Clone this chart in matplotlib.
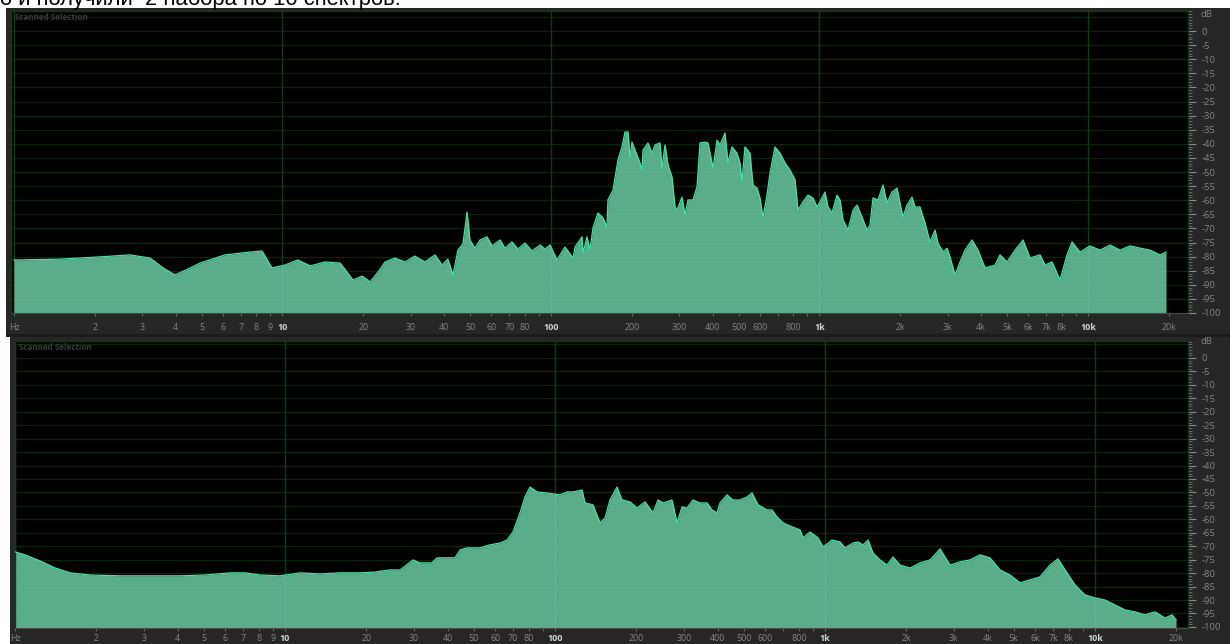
import matplotlib
matplotlib.use("Agg")
from matplotlib import pyplot as plt
from matplotlib.patches import Rectangle
from matplotlib.ticker import FixedLocator, MultipleLocator
from matplotlib.transforms import blended_transform_factory

W, H = 1230, 644

caption = "о и получили  2 набора по 10 спектров."
panel_title = "Scanned Selection"

# first set of spectra (Hz, dB)
freq_a = [1.0, 1.48, 2.09, 2.70, 3.21, 3.59, 3.98, 4.45, 4.93, 6.11, 7.57, 8.39, 9.14,
          10.2, 11.4, 12.7, 14.4, 16.4, 17.4, 18.3, 19.8, 21.2, 22.7, 24.1, 26.2, 28.6,
          31.1, 33.9, 37.0, 39.3, 41.3, 43.2, 45.0, 47.0, 48.7, 49.9, 52.1, 54.4, 57.8,
          60.3, 64.6, 67.4, 71.6, 75.3, 80.0, 85.0, 91.0, 95.0, 99.2, 105.3, 112.7, 120.8,
          122.9, 130.5, 131.6, 136.2, 139.7, 143.3, 149.6, 156.2, 161.6, 163.0, 170.2,
          177.6, 183.8, 188.6, 193.6, 196.9, 200.3, 209.1, 214.5, 218.3, 220.1, 229.8,
          237.8, 244.0, 254.7, 259.1, 265.9, 272.8, 282.3, 289.7, 294.7, 307.6, 315.6,
          323.8, 338.0, 349.8, 358.9, 374.6, 384.4, 401.3, 415.3, 426.1, 444.6, 456.2,
          472.1, 492.8, 505.7, 514.4, 527.8, 551.0, 565.3, 585.0, 600.3, 616.0, 637.5,
          654.1, 682.8, 712.8, 743.9, 776.5, 810.6, 831.7, 868.1, 906.2, 945.9, 978.9,
          1004, 1048, 1076, 1113, 1162, 1192, 1223, 1277, 1333, 1379, 1440, 1503, 1542,
          1582, 1651, 1724, 1784, 1862, 1944, 1994, 2046, 2118, 2211, 2268, 2367, 2472,
          2579, 2693, 2763, 2884, 2985, 3062, 3197, 3337, 3483, 3698, 3893, 4134, 4504,
          4702, 4993, 5348, 5728, 6082, 6627, 6918, 7344, 7866, 8354, 8719, 9338, 10172,
          11084, 12077, 13160, 14336, 15620, 17020, 18545, 19520]
db_a = [-81.2, -80.9, -80.1, -79.4, -80.5, -84.0, -86.5, -84.4, -82.3, -79.4, -78.4, -78.0,
        -84.0, -83.0, -81.2, -83.3, -81.9, -82.3, -85.5, -88.3, -86.9, -89.0, -85.5, -81.9,
        -80.5, -81.9, -79.8, -81.9, -79.4, -83.0, -80.9, -86.5, -77.7, -75.5, -64.2, -74.1,
        -77.0, -74.1, -73.0, -76.2, -74.1, -77.0, -74.8, -77.3, -75.2, -78.0, -75.9, -77.3,
        -75.9, -81.2, -76.6, -80.5, -76.6, -73.0, -78.7, -73.0, -77.7, -69.9, -64.5, -66.3,
        -69.5, -59.9, -56.4, -45.7, -41.1, -35.8, -35.8, -44.7, -39.4, -44.0, -46.8, -49.3,
        -42.2, -39.7, -43.3, -40.4, -39.7, -48.6, -40.4, -47.5, -51.8, -62.4, -63.5, -58.9,
        -65.2, -59.9, -59.9, -55.3, -39.7, -39.4, -39.7, -48.6, -38.7, -40.4, -36.2, -46.8,
        -41.1, -43.3, -46.8, -53.5, -41.1, -43.3, -54.6, -55.7, -59.2, -66.0, -58.2, -50.4,
        -41.1, -43.3, -46.8, -49.3, -52.8, -63.5, -60.6, -58.2, -59.2, -62.4, -60.6, -57.1,
        -62.4, -64.5, -58.2, -59.9, -67.0, -70.6, -63.5, -61.7, -66.0, -70.6, -68.8, -59.2,
        -59.9, -54.6, -61.0, -57.1, -55.7, -61.0, -66.0, -61.7, -58.9, -62.4, -62.4, -68.1,
        -74.8, -70.6, -75.2, -78.4, -77.0, -80.1, -86.5, -81.9, -77.7, -74.1, -77.7, -84.0,
        -83.0, -79.4, -81.9, -77.7, -74.1, -80.5, -79.4, -83.0, -81.9, -88.3, -79.4, -74.8,
        -78.4, -76.2, -77.7, -75.9, -77.7, -76.2, -77.0, -77.7, -79.4, -78.4]

# second set of spectra (Hz, dB)
freq_b = [1.0, 1.09, 1.24, 1.41, 1.60, 1.90, 2.45, 3.16, 4.08, 5.05, 6.26, 7.11, 8.08, 9.58,
          11.4, 13.5, 16.0, 19.0, 21.5, 24.5, 26.7, 29.8, 31.6, 35.0, 36.6, 42.6, 44.5,
          47.2, 52.7, 57.4, 62.6, 66.4, 69.9, 74.2, 77.4, 80.8, 85.8, 93.4, 104.3, 110.8,
          116.6, 125.9, 129.2, 138.2, 146.8, 153.2, 159.8, 169.7, 177.1, 189.6, 201.2,
          215.4, 230.7, 240.7, 251.2, 271.3, 283.1, 295.4, 308.3, 324.4, 344.4, 365.6,
          381.5, 398.1, 408.4, 433.5, 456.3, 484.4, 514.2, 536.6, 564.8, 609.7, 636.3,
          664.0, 698.9, 754.7, 808.0, 828.9, 880.0, 942.2, 983.1, 1061, 1137, 1186, 1270,
          1326, 1383, 1443, 1506, 1599, 1697, 1786, 1896, 2065, 2249, 2449, 2667, 2904,
          3162, 3443, 3751, 4084, 4448, 4844, 5275, 5745, 6256, 6813, 7295, 7745, 8434,
          9183, 10000, 10890, 11860, 12915, 14065, 15315, 16681, 18165, 19290, 19953]
db_b = [-72.1, -73.2, -75.5, -78.1, -79.9, -80.7, -81.0, -81.0, -81.0, -80.7, -79.9, -79.9,
        -80.7, -81.0, -79.9, -80.3, -79.9, -79.9, -79.6, -78.8, -78.8, -75.1, -76.2, -76.2,
        -74.3, -74.3, -71.4, -70.6, -70.6, -69.5, -68.8, -67.7, -64.7, -57.6, -51.7, -48.0,
        -49.8, -50.2, -50.9, -49.8, -49.8, -49.1, -53.9, -54.6, -61.3, -59.5, -52.8, -48.0,
        -52.8, -53.5, -55.8, -53.5, -57.6, -52.8, -53.9, -52.8, -61.3, -55.4, -55.8, -52.8,
        -53.9, -53.9, -56.5, -57.6, -53.9, -50.9, -52.8, -52.8, -51.7, -50.2, -54.6, -56.5,
        -56.5, -59.1, -61.3, -62.8, -63.9, -66.9, -64.7, -66.9, -70.3, -67.7, -68.4, -70.6,
        -68.8, -68.4, -69.5, -67.7, -72.5, -75.1, -77.0, -74.0, -77.0, -78.1, -76.2, -75.1,
        -71.0, -77.0, -75.8, -75.1, -73.2, -74.3, -78.8, -80.7, -83.6, -82.5, -81.4, -77.0,
        -74.7, -78.8, -84.4, -88.1, -89.2, -90.0, -91.8, -93.7, -94.4, -95.5, -94.4, -96.7,
        -95.5, -97.4]

freq_ticks = [m * 10 ** k for k in range(4) for m in range(1, 10)] + [10000, 20000]
freq_labels = ["Hz", "2", "3", "4", "5", "6", "7", "8", "9",
               "10", "20", "30", "40", "50", "60", "70", "80", "",
               "100", "200", "300", "400", "500", "600", "", "800", "",
               "1k", "2k", "3k", "4k", "5k", "6k", "7k", "8k", "",
               "10k", "20k"]
decades = [1, 10, 100, 1000, 10000]
db_ticks = list(range(0, -101, -5))
db_grid = list(range(5, -101, -5))

FRAME = "#262626"
FILL = "#59ad89"
EDGE = "#3fe6a3"
GRID = "#082608"
DECADE = "#0f3c10"
LABEL = "#858585"
FONT = ["Open Sans", "DejaVu Sans"]


def px_rect(x0, y0, x1, y1):
    return [x0 / W, 1 - y1 / H, (x1 - x0) / W, (y1 - y0) / H]


def add_box(fig, box, color, z=-1):
    r = px_rect(*box)
    fig.add_artist(Rectangle(r[:2], r[2], r[3], transform=fig.transFigure,
                             color=color, lw=0, zorder=z))


def draw_panel(fig, plot, xlim, ylim, freq, db, label_pad):
    ax = fig.add_axes(px_rect(*plot))
    ax.set_facecolor("black")
    ax.set_xscale("log")
    ax.set_xlim(*xlim)
    ax.set_ylim(*ylim)

    body = ax.fill_between(freq, db, ylim[0] - 5, color=FILL, lw=0, zorder=2)
    ax.plot(freq, db, color=EDGE, lw=0.9, zorder=3)

    # grid: dark green on black, a faint lighter trace where it crosses the spectrum
    shape = body.get_paths()[0]
    for y in db_grid:
        ax.axhline(y, color=GRID, lw=0.9, zorder=1)
        hl = ax.axhline(y, color="white", alpha=0.04, lw=0.9, zorder=2.5)
        hl.set_clip_path(shape, transform=ax.transData)
    for f in decades:
        ax.axvline(f, color=DECADE, lw=1.0, zorder=1)
        vl = ax.axvline(f, color="white", alpha=0.07, lw=1.0, zorder=2.5)
        vl.set_clip_path(shape, transform=ax.transData)

    # frequency axis
    ax.xaxis.set_major_locator(FixedLocator(freq_ticks))
    ax.xaxis.set_minor_locator(FixedLocator([]))
    ax.set_xticklabels(freq_labels)
    ax.tick_params(axis="x", direction="out", length=2.5, width=0.8, color="#6a6a6a",
                   pad=label_pad, labelsize=6.4, labelcolor=LABEL)
    for tick, f in zip(ax.get_xticklabels(), freq_ticks):
        tick.set_family(FONT)
        if f in decades[1:]:
            tick.set_fontweight("bold")
            tick.set_color("#d2d2d2")

    # level axis
    ax.yaxis.tick_right()
    ax.yaxis.set_major_locator(FixedLocator(db_ticks))
    ax.yaxis.set_minor_locator(MultipleLocator(1))
    ax.set_yticklabels([f"{v}" for v in db_ticks])
    ax.tick_params(axis="y", which="major", direction="out", length=6, width=0.8,
                   color="#8a8a8a", pad=4, labelsize=6.8, labelcolor=LABEL)
    ax.tick_params(axis="y", which="minor", direction="out", length=3, width=0.6,
                   color="#777777")
    for tick in ax.get_yticklabels():
        tick.set_family(FONT)
    trans = blended_transform_factory(ax.transAxes, ax.transData)
    ax.text(1.0 + 13 / W, 6.0, "dB", transform=trans, ha="left", va="center",
            fontsize=6.8, color=LABEL, family=FONT)

    for side in ("left", "top", "right"):
        ax.spines[side].set_color("#0f3a12")
        ax.spines[side].set_linewidth(1.0)
    ax.spines["bottom"].set_color("#4a4a4a")
    ax.spines["bottom"].set_linewidth(0.8)

    ax.text(4 / (plot[2] - plot[0]), 1 - 6 / (plot[3] - plot[1]), panel_title,
            transform=ax.transAxes, ha="left", va="center", fontsize=5.8,
            fontweight="bold", color="#3a3a3a", family=FONT, zorder=4)
    return ax


fig = plt.figure(figsize=(W / 100, H / 100), dpi=100)
fig.patch.set_facecolor("white")

# panel frames
add_box(fig, (6, 8, 1230, 334), FRAME)
add_box(fig, (6, 334, 1230, 337), "#1b1b1b")
add_box(fig, (10, 337, 1230, 644), FRAME)

draw_panel(fig, (11, 11, 1188, 313), (0.975, 23570), (-100, 7.1), freq_a, db_a, 5)
draw_panel(fig, (15, 341, 1188, 628), (1.0, 22100), (-100.4, 6.3), freq_b, db_b, 1.5)

fig.text(0, 1 - 5 / H, caption, ha="left", va="baseline", fontsize=15.8,
         color="black", family=["Liberation Sans", "DejaVu Sans"])

fig.savefig("out.png", dpi=100, facecolor=fig.get_facecolor())
